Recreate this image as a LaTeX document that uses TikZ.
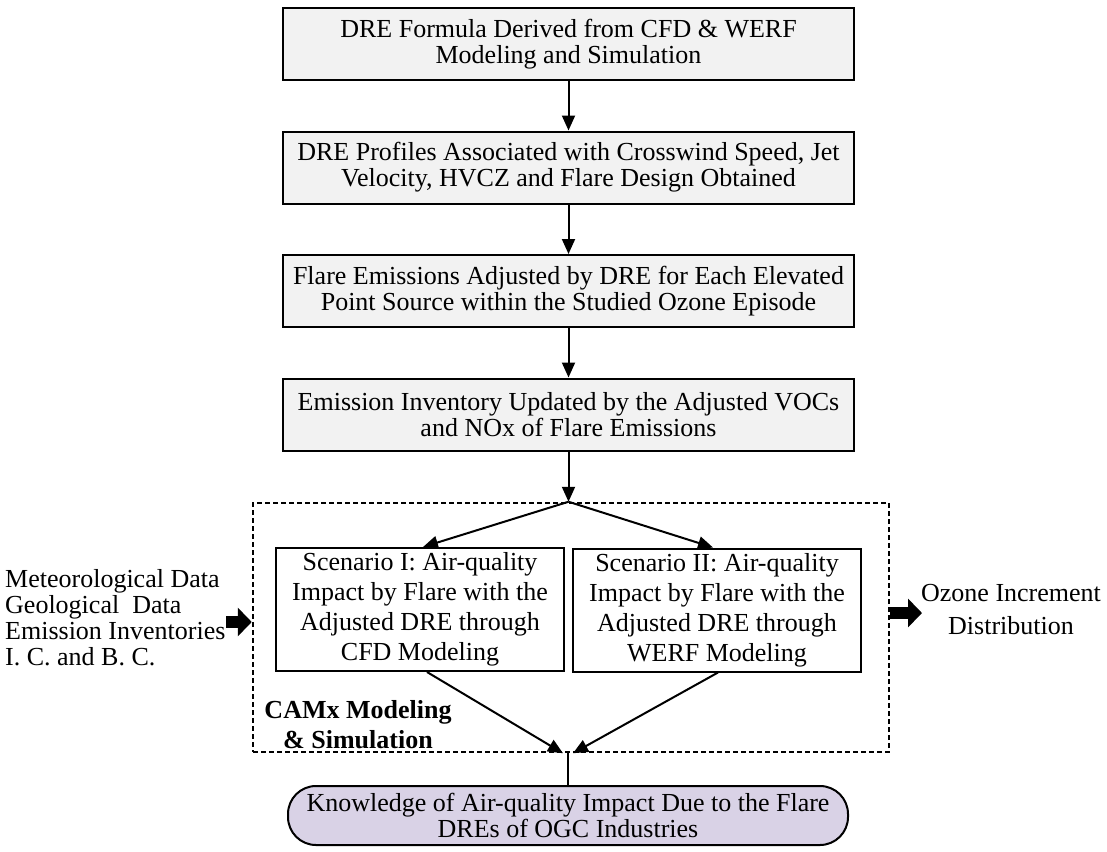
\documentclass[tikz,border=0pt]{standalone}
\usepackage{fontspec}
\setmainfont{Liberation Serif}
\usetikzlibrary{arrows.meta,calc}
\definecolor{boxgray}{RGB}{242,242,242}
\definecolor{lav}{RGB}{217,210,230}
\begin{document}
\begin{tikzpicture}[x=1pt,y=-1pt,
  txt/.style={font=\fontsize{26}{26}\selectfont},
  mainbox/.style={draw, line width=2pt, fill=boxgray, minimum width=571pt, minimum height=72pt, align=center, inner sep=0pt, txt},
  scenbox/.style={draw, line width=2pt, fill=white, minimum width=288pt, minimum height=123pt, align=center, inner sep=0pt, font=\fontsize{26}{30}\selectfont},
  conn/.style={line width=2pt, -{Triangle[length=15pt,width=13pt]}},
  plain/.style={line width=2pt},
  fat/.style={line width=12pt, -{Triangle[length=14pt,width=28pt]}},
  dotbox/.style={draw, line width=2.5pt, dash pattern=on 5pt off 3pt, minimum width=636pt, minimum height=249pt, inner sep=0pt}
]
\useasboundingbox (0,0) rectangle (1107,851);

\node[dotbox] (camx) at (571,627.5) {};

\node[mainbox] (b1) at (568.5,44) {DRE Formula Derived from CFD \& WERF\\Modeling and Simulation};
\node[mainbox] (b2) at (568.5,167.5) {DRE Profiles Associated with Crosswind Speed, Jet\\Velocity, HVCZ and Flare Design Obtained};
\node[mainbox] (b3) at (568.5,291) {Flare Emissions Adjusted by DRE for Each Elevated\\Point Source within the Studied Ozone Episode};
\node[mainbox] (b4) at (568.5,414.5) {Emission Inventory Updated by the Adjusted VOCs\\and NOx of Flare Emissions};

\node[scenbox] (s1) at (420,609.5) {Scenario I: Air-quality\\Impact by Flare with the\\Adjusted DRE through\\CFD Modeling};
\node[scenbox] (s2) at (717,610) {Scenario II: Air-quality\\Impact by Flare with the\\Adjusted DRE through\\WERF Modeling};

\node[font=\bfseries\fontsize{26}{30}\selectfont, align=center, inner sep=0pt] (lab) at (358,725) {CAMx Modeling\\\& Simulation};

\node[draw, line width=2pt, fill=lav, rounded corners=28pt, minimum width=560pt, minimum height=59pt, align=center, inner sep=0pt, txt] (kn) at (568,815.5) {Knowledge of Air-quality Impact Due to the Flare\\DREs of OGC Industries};

\node[align=left, anchor=west, inner sep=0pt, font=\fontsize{26}{26}\selectfont] (met) at (5,618) {Meteorological Data\\Geological\ \ Data\\Emission Inventories\\I. C. and B. C.};
\node[align=center, inner sep=0pt, font=\fontsize{26}{33}\selectfont] (oz) at (1011,610) {Ozone Increment\\Distribution};

\coordinate (top) at (b4.south |- camx.north);
\coordinate (bot) at (kn.north |- camx.south);

\draw[conn] (b1) -- (b2);
\draw[conn] (b2) -- (b3);
\draw[conn] (b3) -- (b4);
\draw[conn] (b4) -- (top);
\draw[conn] (top) -- ($(s1.north)+(3,0)$);
\draw[conn] (top) -- ($(s2.north)+(-4,0)$);
\draw[conn] ($(s1.south)+(7,0)$) -- ($(bot)+(-5,0)$);
\draw[conn] ($(s2.south)+(1,0)$) -- ($(bot)+(5,0)$);
\draw[plain] (bot) -- (kn.north);

\draw[fat] (226,622) -- (camx.west |- 0,622);
\draw[fat] (camx.east |- 0,613) -- (922,613);
\end{tikzpicture}
\end{document}
